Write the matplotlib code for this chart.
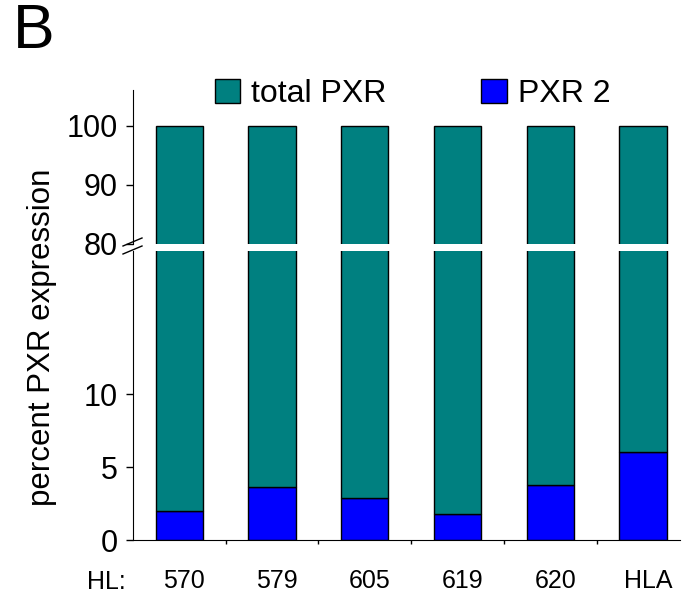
import matplotlib
matplotlib.use("Agg")
import matplotlib.pyplot as plt
import matplotlib.transforms as mtransforms
from matplotlib.patches import Patch
from matplotlib.lines import Line2D

plt.rcParams['font.family'] = ['Liberation Sans', 'DejaVu Sans']

samples = ['570', '579', '605', '619', '620', 'HLA']
pxr2 = [2.0, 3.6, 2.9, 1.8, 3.8, 6.0]
total = [100, 100, 100, 100, 100, 100]

teal = '#008080'
blue = '#0000FF'

W, H = 685, 603
fig = plt.figure(figsize=(W / 100, H / 100), dpi=100)

def frac(x0, y0, x1, y1):
    return [x0 / W, 1 - y1 / H, (x1 - x0) / W, (y1 - y0) / H]

ax_lo = fig.add_axes(frac(133, 251, 680, 540))
ax_hi = fig.add_axes(frac(133, 90, 680, 244))

x = list(range(len(samples)))
rest = [t - p for t, p in zip(total, pxr2)]
for ax in (ax_lo, ax_hi):
    ax.bar(x, pxr2, width=0.51, color=blue, edgecolor='black', linewidth=1)
    ax.bar(x, rest, width=0.51, bottom=pxr2, color=teal, edgecolor='black', linewidth=1)
    ax.set_xlim(-0.5, 5.4)
    ax.spines['top'].set_visible(False)
    ax.spines['right'].set_visible(False)
    ax.tick_params(axis='y', direction='out', length=5, width=1, labelsize=22, pad=6)

ax_lo.set_ylim(0, 19.8)
ax_lo.set_yticks([0, 5, 10])
ax_lo.set_xticks(x)
ax_lo.set_xticklabels(samples, fontsize=18)
ax_lo.set_xticks([i + 0.5 for i in x[:-1]], minor=True)
ax_lo.tick_params(axis='x', which='major', length=0, pad=21)
ax_lo.tick_params(axis='x', which='minor', length=3, width=1, direction='out')
shift = mtransforms.ScaledTranslation(5 / 100, 0, fig.dpi_scale_trans)
for lbl in ax_lo.get_xticklabels():
    lbl.set_transform(lbl.get_transform() + shift)

ax_hi.set_ylim(80, 106)
ax_hi.set_yticks([80, 90, 100])
ax_hi.set_xticks([])
ax_hi.spines['bottom'].set_visible(False)

fig.text(87 / W, 1 - 582 / H, 'HL:', fontsize=18, va='center', ha='left')
fig.text(42 / W, 1 - 337 / H, 'percent PXR expression', fontsize=22.5,
         rotation=90, va='center', ha='center')
fig.text(13 / W, 1 - 31 / H, 'B', fontsize=45, va='center', ha='left')

# axis break marks
for yb in (242, 250):
    fig.add_artist(Line2D([123 / W, 142 / W], [1 - (yb + 4) / H, 1 - (yb - 4) / H],
                          color='black', linewidth=1))

handles = [Patch(facecolor=teal, edgecolor='black', label='total PXR'),
           Patch(facecolor=blue, edgecolor='black', label='PXR 2')]
fig.legend(handles=handles, loc='center left', bbox_to_anchor=(186 / W, 1 - 94 / H),
           ncol=2, frameon=False, fontsize=23, handlelength=0.8, handleheight=0.8,
           handletextpad=0.35, columnspacing=2.95)

fig.savefig('out.png', dpi=100)
